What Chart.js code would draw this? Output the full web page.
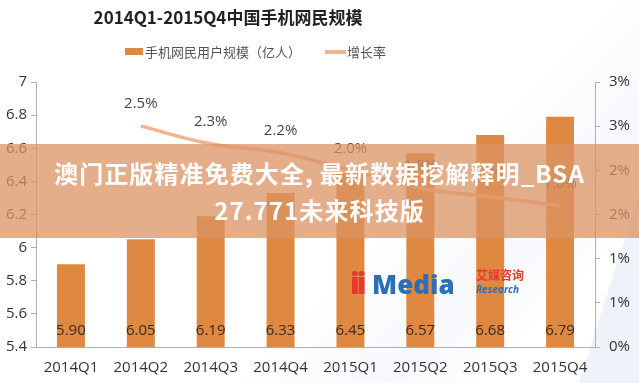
<!DOCTYPE html>
<html>
<head>
<meta charset="utf-8">
<script src="https://cdn.jsdelivr.net/npm/chart.js@4/dist/chart.umd.min.js"></script>
<style>
  html, body { margin: 0; padding: 0; background: #ffffff; }
  #wrap { position: relative; width: 639px; height: 383px; overflow: hidden;
    background: linear-gradient(135deg, #ffffff 0%, #ffffff 60%, #f6f8fb 75%, #ffffff 85%); }
  #corner { position: absolute; right: 0; bottom: 0; width: 60px; height: 190px;
    background: #eef3fa; clip-path: polygon(100% 0, 100% 100%, 0 100%); }
  canvas { position: absolute; left: 0; top: 0; }
  #banner { position: absolute; left: 0; top: 144px; width: 639px; height: 94px;
    background: rgba(219,147,99,0.75); color: #fff; text-align: center;
    font-family: "Noto Sans CJK SC", sans-serif; font-weight: 700; font-size: 24px; line-height: 37px;
    letter-spacing: 1.1px; padding-top: 10px; box-sizing: border-box; white-space: nowrap; }
  #logo { position: absolute; left: 350px; top: 262px; font-family: "Open Sans", "DejaVu Sans", sans-serif; }
  #logo .ii { position: absolute; left: 0; top: 0; font-size: 30px; font-weight: 800; color: #e53a2e; letter-spacing: -3px; }
  #logo .m { position: absolute; left: 22px; top: 4px; font-size: 26px; font-weight: 800; color: #2d6fb5; }
  #logo .cn { position: absolute; left: 126px; top: 4px; font-size: 12px; font-weight: 700; color: #e53a2e; font-family: "Noto Sans CJK SC", sans-serif; white-space: nowrap; }
  #logo .en { position: absolute; left: 126px; top: 20px; font-size: 10px; font-style: italic; font-weight: 700; color: #2d6fb5; }
</style>
</head>
<body>
<div id="wrap">
  <div id="corner"></div>
  <canvas id="c" width="639" height="383"></canvas>
  <div id="logo"><span class="ii">ii</span><span class="m">Media</span><span class="cn">艾媒咨询</span><span class="en">Research</span></div>
  <div id="banner">澳门正版精准免费大全,&thinsp;最新数据挖解释明_BSA<br>27.771未来科技版</div>
</div>
<script>
const titleText = "2014Q1-2015Q4中国手机网民规模";
const categories = ["2014Q1","2014Q2","2014Q3","2014Q4","2015Q1","2015Q2","2015Q3","2015Q4"];
const userScale = [5.90, 6.05, 6.19, 6.33, 6.45, 6.57, 6.68, 6.79];
const growthRate = [null, 2.5, 2.3, 2.2, 2.0, 1.8, 1.7, 1.6];
const barLabel = "手机网民用户规模（亿人）";
const lineLabel = "增长率";

const BAR_COLOR = "#de8841";
const LINE_COLOR = "#f0b490";
const FONT = '"Open Sans", "Noto Sans CJK SC", sans-serif';

const labelsPlugin = {
  id: 'customLabels',
  afterDatasetsDraw(chart) {
    const ctx = chart.ctx;
    ctx.save();
    ctx.font = '15px ' + FONT;
    ctx.textAlign = 'center';
    ctx.textBaseline = 'middle';
    const bottom = chart.scales.y.bottom;
    chart.getDatasetMeta(0).data.forEach((bar, i) => {
      ctx.fillStyle = '#3b2a1c';
      ctx.fillText(userScale[i].toFixed(2), bar.x, bottom - 16);
    });
    chart.getDatasetMeta(1).data.forEach((pt, i) => {
      if (growthRate[i] == null) return;
      ctx.fillStyle = '#444';
      ctx.fillText(growthRate[i].toFixed(1) + '%', pt.x, pt.y - 22);
    });
    ctx.restore();
  },
  afterDraw(chart) {
    const ctx = chart.ctx;
    ctx.save();
    ctx.textBaseline = 'middle';
    ctx.textAlign = 'center';
    ctx.fillStyle = '#222';
    ctx.font = 'bold 17px "Noto Sans CJK SC", sans-serif';
    ctx.fillText(titleText, 228, 18);
    // legend
    ctx.textAlign = 'left';
    ctx.font = '13px "Noto Sans CJK SC", sans-serif';
    ctx.fillStyle = chart.data.datasets[0].backgroundColor;
    ctx.fillRect(125, 48, 18, 7);
    ctx.fillStyle = '#555';
    ctx.fillText(chart.data.datasets[0].label, 145, 52);
    ctx.strokeStyle = chart.data.datasets[1].borderColor;
    ctx.lineWidth = 4;
    ctx.beginPath(); ctx.moveTo(325, 52); ctx.lineTo(346, 52); ctx.stroke();
    ctx.fillStyle = '#555';
    ctx.fillText(chart.data.datasets[1].label, 347, 52);
    ctx.restore();
  }
};

new Chart(document.getElementById('c'), {
  data: {
    labels: categories,
    datasets: [
      { type: 'bar', label: barLabel, data: userScale, backgroundColor: BAR_COLOR,
        yAxisID: 'y', order: 1, barPercentage: 0.4, categoryPercentage: 1.0 },
      { type: 'line', label: lineLabel, data: growthRate, borderColor: LINE_COLOR,
        borderWidth: 3.5, pointRadius: 0, tension: 0.4, yAxisID: 'y1', order: 0, spanGaps: false }
    ]
  },
  options: {
    responsive: false,
    animation: false,
    layout: { padding: { top: 82, bottom: 0, left: 0, right: 0 } },
    plugins: { legend: { display: false }, title: { display: false }, tooltip: { enabled: false } },
    scales: {
      x: {
        grid: { display: false, drawTicks: false },
        border: { color: '#b0b0b0', width: 1 },
        ticks: { color: '#333', font: { size: 15, family: FONT }, padding: 12, maxRotation: 0 },
        afterFit(s) { s.height = 36; }
      },
      y: {
        position: 'left', min: 5.4, max: 7.0,
        ticks: { stepSize: 0.2, color: '#333', font: { size: 15, family: FONT }, padding: 4,
          callback: v => String(Math.round(v * 10) / 10) },
        grid: { drawOnChartArea: false, tickLength: 5, color: '#b0b0b0' },
        border: { color: '#b0b0b0', width: 1 },
        afterFit(s) { s.width = 36; }
      },
      y1: {
        position: 'right', min: 0, max: 3.0,
        ticks: { stepSize: 0.5, color: '#333', font: { size: 15, family: FONT }, padding: 9,
          callback: v => Math.round(v) + '%' },
        grid: { drawOnChartArea: false, tickLength: 5, color: '#b0b0b0' },
        border: { color: '#b0b0b0', width: 1 },
        afterFit(s) { s.width = 44; }
      }
    }
  },
  plugins: [labelsPlugin]
});
</script>
</body>
</html>
